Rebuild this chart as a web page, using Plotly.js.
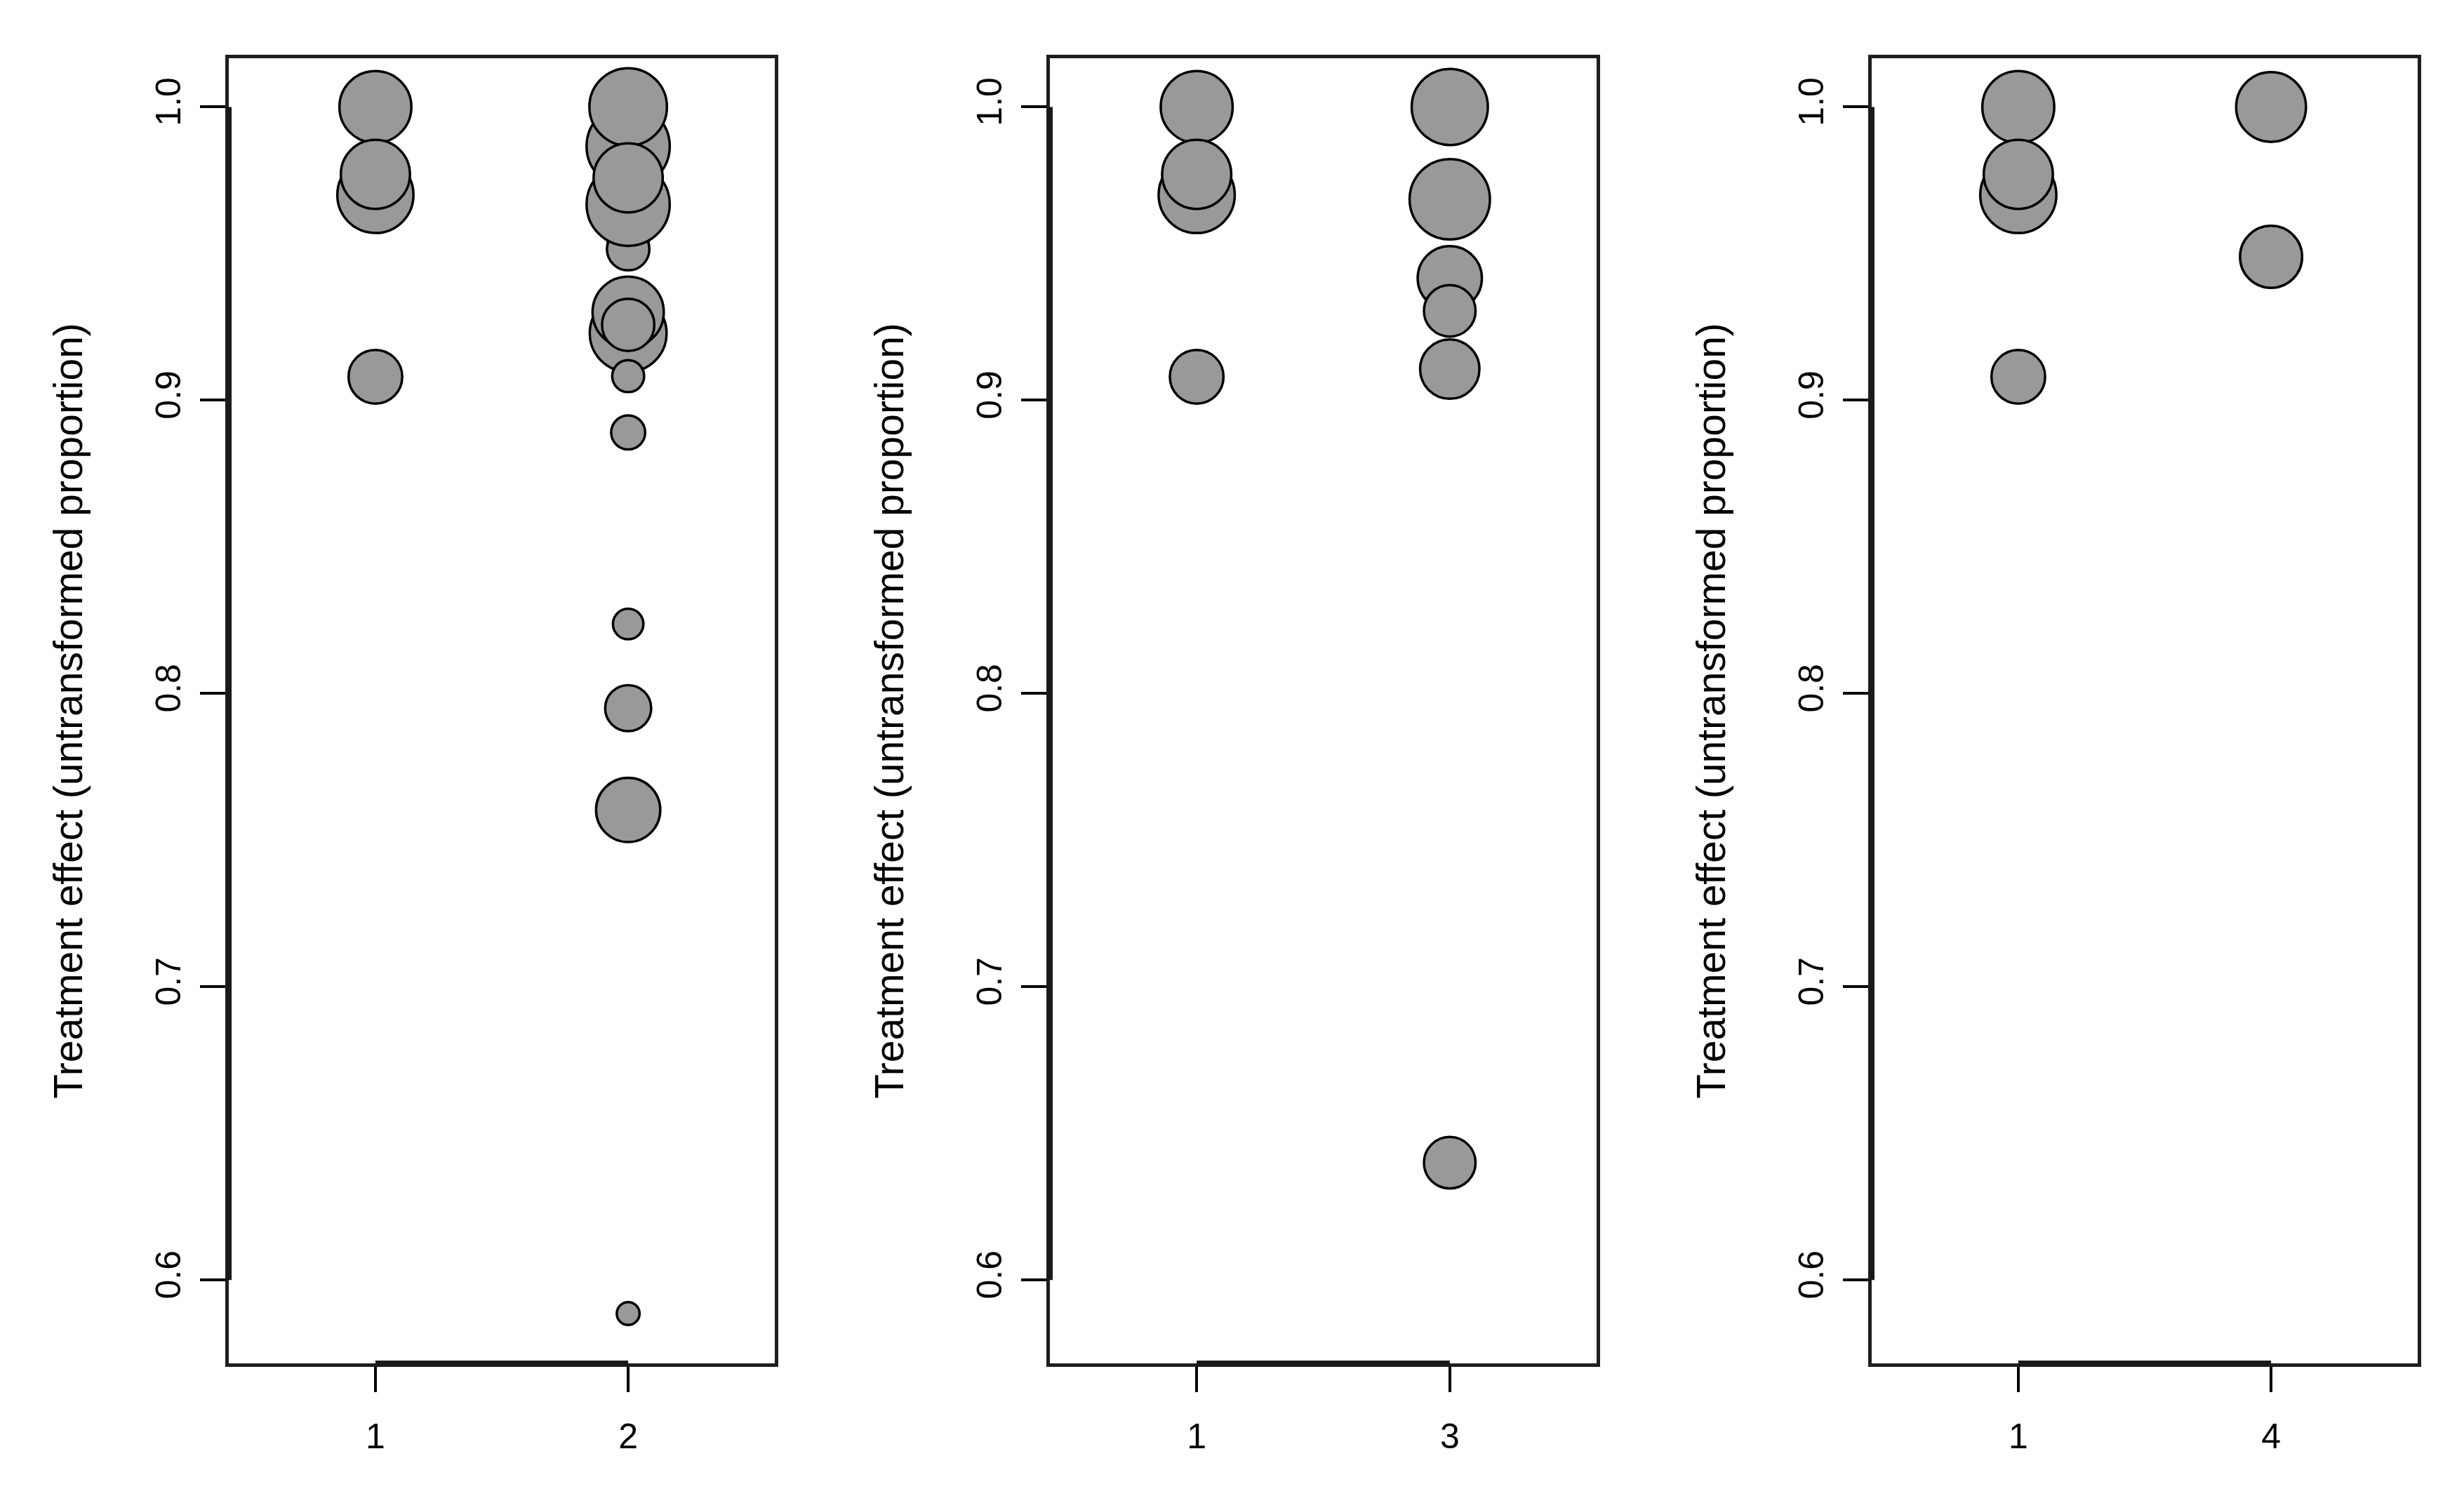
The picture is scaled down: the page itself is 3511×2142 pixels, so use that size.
<!DOCTYPE html>
<html><head><meta charset="utf-8">
<script src="https://cdn.plot.ly/plotly-3.0.1.min.js"></script>
<style>html,body{margin:0;padding:0;background:#fff}</style>
</head><body><div id="chart" style="width:3511px;height:2142px"></div>
<script>
// ---- data ----
const panelCategories = [["1", "2"], ["1", "3"], ["1", "4"]];
// reference group "1" (identical in every panel)
const group1Values  = [0.970, 1.000, 0.977, 0.908];
const group1Weights = [1.12, 1.06, 1.02, 0.80];
// comparison group "2" (panel 1)
const group2Values  = [0.956, 0.9515, 0.9866, 0.9668, 1.000, 0.9758, 0.9228, 0.930, 0.9257, 0.9082, 0.889, 0.8237, 0.795, 0.7603, 0.5886];
const group2Weights = [0.64, 0.64, 1.22, 1.22, 1.14, 1.02, 1.13, 1.05, 0.78, 0.49, 0.52, 0.47, 0.69, 0.95, 0.36];
// comparison group "3" (panel 2)
const group3Values  = [1.000, 0.9685, 0.9416, 0.9305, 0.9106, 0.640];
const group3Weights = [1.12, 1.18, 0.95, 0.77, 0.88, 0.77];
// comparison group "4" (panel 3)
const group4Values  = [1.000, 0.9489];
const group4Weights = [1.03, 0.92];
const yTickValues = [0.6, 0.7, 0.8, 0.9, 1.0];
const yTickLabels = ["0.6", "0.7", "0.8", "0.9", "1.0"];
const yTitle = "Treatment effect (untransformed proportion)";

// ---- styling ----
const W = 3511, H = 2142;
const FONT = "Liberation Sans, Arial, Helvetica, sans-serif";
const LINE_W = 3.5;
const SIZE_SCALE = 100;
const panelPx = [[326, 1104], [1496, 2275], [2667, 3445]];
const plotTop = 83, plotBottom = 1943;

const comparisons = [
  {values: group2Values, weights: group2Weights},
  {values: group3Values, weights: group3Weights},
  {values: group4Values, weights: group4Weights}
];

function markerSizes(w) { return w.map(v => v * SIZE_SCALE - LINE_W); }

const traces = [];
const layout = {
  width: W, height: H,
  margin: {l: 0, r: 0, t: 0, b: 0, pad: 0},
  paper_bgcolor: "#fff", plot_bgcolor: "#fff",
  showlegend: false,
  font: {family: FONT, color: "#000"},
  shapes: []
};

comparisons.forEach((cmp, i) => {
  const n = i + 1;
  const xa = n === 1 ? "x" : "x" + n;
  const ya = n === 1 ? "y" : "y" + n;
  const cats = panelCategories[i];
  const series = [
    {vals: group1Values, w: group1Weights, pos: 1},
    {vals: cmp.values, w: cmp.weights, pos: 2}
  ];
  series.forEach(s => {
    traces.push({
      type: "scatter", mode: "markers",
      x: s.vals.map(() => s.pos), y: s.vals,
      xaxis: xa, yaxis: ya,
      marker: {size: markerSizes(s.w), color: "#999999", opacity: 1,
               line: {color: "#000", width: LINE_W}},
      hoverinfo: "y"
    });
  });
  const xDom = [panelPx[i][0] / W, panelPx[i][1] / W];
  const yDom = [1 - plotBottom / H, 1 - plotTop / H];
  layout["xaxis" + (n === 1 ? "" : n)] = {
    domain: xDom, anchor: ya, range: [0.42, 2.58],
    tickmode: "array", tickvals: [1, 2], ticktext: cats,
    ticks: "outside", ticklen: 36, tickwidth: 4, tickcolor: "#000",
    ticklabelstandoff: 20,
    showline: true, mirror: true, linecolor: "#1e1e1e", linewidth: 5,
    showgrid: false, zeroline: false,
    tickfont: {size: 50, family: FONT, color: "#000"}
  };
  layout["yaxis" + (n === 1 ? "" : n)] = {
    domain: yDom, anchor: xa, range: [0.5716, 1.0166],
    tickmode: "array", tickvals: yTickValues, ticktext: yTickLabels,
    tickangle: -90,
    ticks: "outside", ticklen: 36, tickwidth: 4, tickcolor: "#000",
    ticklabelstandoff: 8,
    showline: true, mirror: true, linecolor: "#1e1e1e", linewidth: 5,
    showgrid: false, zeroline: false,
    tickfont: {size: 50, family: FONT, color: "#000"},
    title: {text: yTitle, font: {size: 57, family: FONT, color: "#000"}, standoff: 78}
  };
  // R-style axis lines spanning the ticks (drawn over the box)
  layout.shapes.push({type: "line", xref: xa, yref: ya + " domain",
    x0: 1, x1: 2, y0: 0, y1: 0, line: {color: "#1a1a1a", width: 8}});
  layout.shapes.push({type: "line", xref: xa + " domain", yref: ya,
    x0: 0, x1: 0, y0: yTickValues[0], y1: yTickValues[yTickValues.length - 1],
    line: {color: "#1a1a1a", width: 8}});
});

Plotly.newPlot("chart", traces, layout, {staticPlot: true, displayModeBar: false});
</script></body></html>
